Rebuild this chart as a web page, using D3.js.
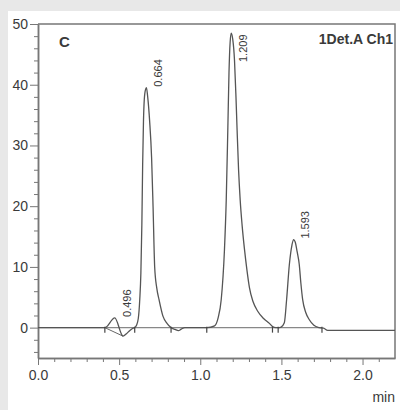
<!DOCTYPE html>
<html>
<head>
<meta charset="utf-8">
<script src="https://cdn.jsdelivr.net/npm/d3@7"></script>
<style>
  body { margin: 0; background: #e8e8e8; }
  svg { display: block; }
  text { font-family: "Liberation Sans", Arial, sans-serif; fill: #3a3a3a; }
</style>
</head>
<body>
<div id="chart"></div>
<script>
// Chromatogram data (time in min, signal)
var traceTime = [0, 0.412, 0.473, 0.524, 0.545, 0.565, 0.585, 0.596, 0.607, 0.618, 0.627, 0.634, 0.640, 0.645, 0.650, 0.658, 0.668, 0.676, 0.688, 0.700, 0.709, 0.719, 0.732, 0.746, 0.770, 0.795, 0.820, 0.845, 0.865, 0.885, 0.905,
  1.040, 1.088, 1.110, 1.129, 1.149, 1.160, 1.170, 1.177, 1.184, 1.191, 1.200, 1.211, 1.220, 1.227, 1.236, 1.246, 1.258, 1.272, 1.288, 1.303, 1.325, 1.354, 1.390, 1.426, 1.445, 1.465,
  1.480, 1.498, 1.518, 1.532, 1.549, 1.565, 1.575, 1.585, 1.597, 1.610, 1.620, 1.631, 1.650, 1.672, 1.700, 1.733, 1.760, 1.785, 2.2];
var traceValue = [0, 0, 1.6, -1.4, -1.0, -0.5, -0.1, 0, 0.4, 1.5, 4.6, 9, 17, 27, 34, 38.5, 39.5, 38, 34, 28, 20, 10, 6.5, 4.6, 1.9, 0.7, 0, -0.3, -0.5, -0.2, 0,
  0, 0.3, 1.6, 4.6, 12.8, 21, 33, 42, 47, 48.5, 47.5, 44, 38, 32.5, 26, 21, 16.8, 13, 9.4, 6.6, 4.3, 2.7, 1.5, 0.7, 0.2, 0,
  0, 0.1, 0.8, 4.6, 10.4, 13.6, 14.5, 14.1, 12.5, 10.4, 7.3, 4.6, 2.5, 1.3, 0.4, 0, -0.1, -0.45, -0.45];

var peakLabels = ["0.496", "0.664", "1.209", "1.593"];
var peakTime = [0.473, 0.668, 1.191, 1.575];
var peakHeight = [1.6, 39.5, 48.5, 14.5];

// peak start / end marks
var markTime = [0.412, 0.596, 0.820, 1.040, 1.445, 1.480, 1.750];

var xTicks = [0, 0.5, 1.0, 1.5, 2.0];
var yTicks = [0, 10, 20, 30, 40, 50];

svgWidth = 400;
svgHeight = 410;

var plot = { left: 38, top: 24, right: 395, bottom: 358 };

var svg = d3.select("#chart").append("svg").attr("width", svgWidth).attr("height", svgHeight);

// white panel
svg.append("rect").attr("x", 8).attr("y", 11).attr("width", svgWidth - 8).attr("height", svgHeight - 11).attr("fill", "#fff");

var x = d3.scaleLinear().domain([0, 2.2]).range([plot.left, plot.right]);
var y = d3.scaleLinear().domain([-5, 50]).range([plot.bottom, plot.top]);

// frame (top and right)
svg.append("path")
  .attr("d", `M${plot.left},${plot.top}H${plot.right}V${plot.bottom}`)
  .attr("fill", "none").attr("stroke", "#777").attr("stroke-width", 1.5);

// minor ticks
var xMinor = d3.range(0, 22).map(d => d / 10).filter(d => xTicks.indexOf(d) < 0);
var yMinor = d3.range(-4, 50, 2).filter(d => d % 10 != 0);

var xAxis = svg.append("g").attr("transform", `translate(0, ${plot.bottom})`);
xAxis.call(d3.axisBottom(x).tickValues(xMinor).tickSize(4).tickSizeOuter(0).tickFormat(""));
xAxis.append("g").call(d3.axisBottom(x).tickValues(xTicks).tickSize(7).tickSizeOuter(0).tickPadding(5).tickFormat(d3.format(".1f")));

var yAxis = svg.append("g").attr("transform", `translate(${plot.left}, 0)`);
yAxis.call(d3.axisLeft(y).tickValues(yMinor).tickSize(4).tickSizeOuter(0).tickFormat(""));
yAxis.append("g").call(d3.axisLeft(y).tickValues(yTicks).tickSize(8).tickSizeOuter(0).tickPadding(2));

svg.selectAll(".domain").attr("stroke", "#777").attr("stroke-width", 1.5);
svg.selectAll(".tick line").attr("stroke", "#777");
svg.selectAll(".tick text").style("font-size", "14px").attr("fill", "#3a3a3a");

// baseline
svg.append("line")
  .attr("x1", x(0)).attr("x2", x(1.75))
  .attr("y1", y(0)).attr("y2", y(0))
  .attr("stroke", "#888").attr("stroke-width", 1.2);

// integration baseline of the small peak
svg.append("line")
  .attr("x1", x(0.412)).attr("x2", x(0.524))
  .attr("y1", y(0)).attr("y2", y(-1.4))
  .attr("stroke", "#666").attr("stroke-width", 1);

var trace = traceTime.map((t, i) => [t, traceValue[i]]);

var line = d3.line()
  .x(d => x(d[0]))
  .y(d => y(d[1]))
  .curve(d3.curveMonotoneX);

svg.append("path")
  .datum(trace)
  .attr("d", line)
  .attr("fill", "none")
  .attr("stroke", "#555")
  .attr("stroke-width", 1.3);

// start / end marks
svg.selectAll(".mark")
  .data(markTime)
  .enter()
  .append("line")
  .attr("class", "mark")
  .attr("x1", d => x(d)).attr("x2", d => x(d))
  .attr("y1", y(0) - 1).attr("y2", y(0) + 5)
  .attr("stroke", "#444").attr("stroke-width", 1.2);

// retention time labels
svg.selectAll(".peak-label")
  .data(peakLabels)
  .enter()
  .append("text")
  .attr("class", "peak-label")
  .attr("transform", function(d, i) {
    var px = x(peakTime[i]) + 12;
    var py = Math.max(y(peakHeight[i]) - 1, plot.top + 38);
    return `translate(${px}, ${py}) rotate(-90)`;
  })
  .attr("dy", "0.35em")
  .style("font-size", "11px")
  .attr("fill", "#555")
  .text(d => d);

svg.append("text")
  .attr("x", 59).attr("y", 47)
  .style("font-size", "15px").style("font-weight", "bold")
  .attr("fill", "#444")
  .text("C");

svg.append("text")
  .attr("x", 393).attr("y", 44)
  .attr("text-anchor", "end")
  .style("font-size", "14px").style("font-weight", "bold")
  .attr("fill", "#333")
  .text("1Det.A Ch1");

svg.append("text")
  .attr("x", 395).attr("y", 402)
  .attr("text-anchor", "end")
  .style("font-size", "14px")
  .attr("fill", "#3a3a3a")
  .text("min");
</script>
</body>
</html>
